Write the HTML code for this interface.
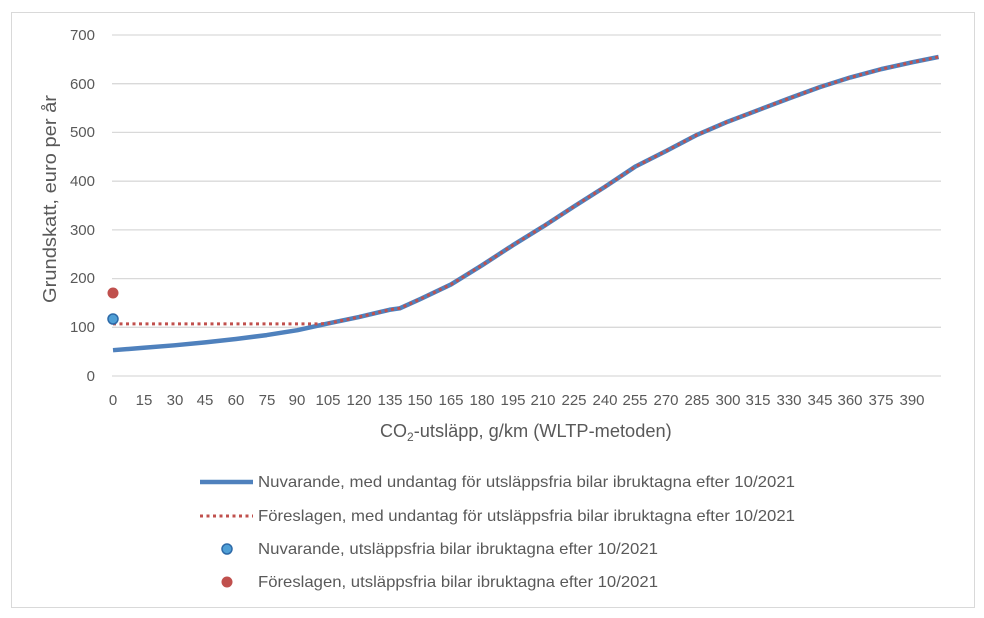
<!DOCTYPE html>
<html><head><style>
body{margin:0;background:#fff;}
svg{display:block;font-family:"Liberation Sans",sans-serif;}
</style></head><body>
<svg width="984" height="618" viewBox="0 0 984 618">
<rect x="11.5" y="12.5" width="963" height="595" fill="#fff" stroke="#d9d9d9"/>
<g stroke="#d9d9d9" stroke-width="1.3">
<line x1="112" x2="941" y1="376" y2="376"/>
<line x1="112" x2="941" y1="327.3" y2="327.3"/>
<line x1="112" x2="941" y1="278.6" y2="278.6"/>
<line x1="112" x2="941" y1="229.9" y2="229.9"/>
<line x1="112" x2="941" y1="181.2" y2="181.2"/>
<line x1="112" x2="941" y1="132.4" y2="132.4"/>
<line x1="112" x2="941" y1="83.7" y2="83.7"/>
<line x1="112" x2="941" y1="35" y2="35"/>
</g>
<g font-size="15" fill="#595959" text-anchor="end">
<text x="95" y="381">0</text><text x="95" y="332">100</text><text x="95" y="283">200</text><text x="95" y="235">300</text><text x="95" y="186">400</text><text x="95" y="137">500</text><text x="95" y="89">600</text><text x="95" y="40">700</text>
</g>
<g font-size="15" fill="#595959" text-anchor="middle">
<text x="113" y="405">0</text><text x="144" y="405">15</text><text x="175" y="405">30</text><text x="205" y="405">45</text><text x="236" y="405">60</text><text x="267" y="405">75</text><text x="297" y="405">90</text><text x="328" y="405">105</text><text x="359" y="405">120</text><text x="390" y="405">135</text><text x="420" y="405">150</text><text x="451" y="405">165</text><text x="482" y="405">180</text><text x="513" y="405">195</text><text x="543" y="405">210</text><text x="574" y="405">225</text><text x="605" y="405">240</text><text x="635" y="405">255</text><text x="666" y="405">270</text><text x="697" y="405">285</text><text x="728" y="405">300</text><text x="758" y="405">315</text><text x="789" y="405">330</text><text x="820" y="405">345</text><text x="850" y="405">360</text><text x="881" y="405">375</text><text x="912" y="405">390</text>
</g>
<text x="380" y="437" font-size="18" fill="#595959">CO<tspan font-size="12" dy="4">2</tspan><tspan dy="-4" textLength="258" lengthAdjust="spacingAndGlyphs">-utsläpp, g/km (WLTP-metoden)</tspan></text>
<text transform="translate(56,199) rotate(-90)" font-size="18" fill="#595959" text-anchor="middle" textLength="208" lengthAdjust="spacingAndGlyphs">Grundskatt, euro per år</text>
<g transform="translate(113,376) scale(2.0487,-0.4871)">
<polyline fill="none" stroke="#4f81bd" stroke-width="4.5" vector-effect="non-scaling-stroke" stroke-linejoin="round" points="0,53 15,58 30,63 45,69 60,76 75,84 90,94 105,108 120,121 135,136 140,139 150,158 165,188 180,227 195,268 210,307 225,348 240,388 255,430 270,462 285,495 300,522 315,546 330,570 345,593 360,613 375,630 390,644 403,655"/>
<polyline fill="none" stroke="#c0504d" stroke-width="3" stroke-dasharray="3 3.5" vector-effect="non-scaling-stroke" points="0,107 100,107 105,108 120,121 135,136 140,139 150,158 165,188 180,227 195,268 210,307 225,348 240,388 255,430 270,462 285,495 300,522 315,546 330,570 345,593 360,613 375,630 390,644 403,655"/>
</g>
<circle cx="113" cy="293" r="5.5" fill="#c0504d"/>
<circle cx="113" cy="319" r="5" fill="#4f9fd6" stroke="#2e6aa8" stroke-width="1.5"/>
<line x1="200" x2="253" y1="482" y2="482" stroke="#4f81bd" stroke-width="4.5"/>
<line x1="200" x2="253" y1="516" y2="516" stroke="#c0504d" stroke-width="3" stroke-dasharray="3 3.5"/>
<circle cx="227" cy="549" r="5" fill="#4f9fd6" stroke="#2e6aa8" stroke-width="1.5"/>
<circle cx="227" cy="582" r="5.5" fill="#c0504d"/>
<g font-size="16" fill="#595959" lengthAdjust="spacingAndGlyphs">
<text x="258" y="487" textLength="537" lengthAdjust="spacingAndGlyphs">Nuvarande, med undantag för utsläppsfria bilar ibruktagna efter 10/2021</text>
<text x="258" y="521" textLength="537" lengthAdjust="spacingAndGlyphs">Föreslagen, med undantag för utsläppsfria bilar ibruktagna efter 10/2021</text>
<text x="258" y="554" textLength="400" lengthAdjust="spacingAndGlyphs">Nuvarande, utsläppsfria bilar ibruktagna efter 10/2021</text>
<text x="258" y="587" textLength="400" lengthAdjust="spacingAndGlyphs">Föreslagen, utsläppsfria bilar ibruktagna efter 10/2021</text>
</g>
</svg>
</body></html>
